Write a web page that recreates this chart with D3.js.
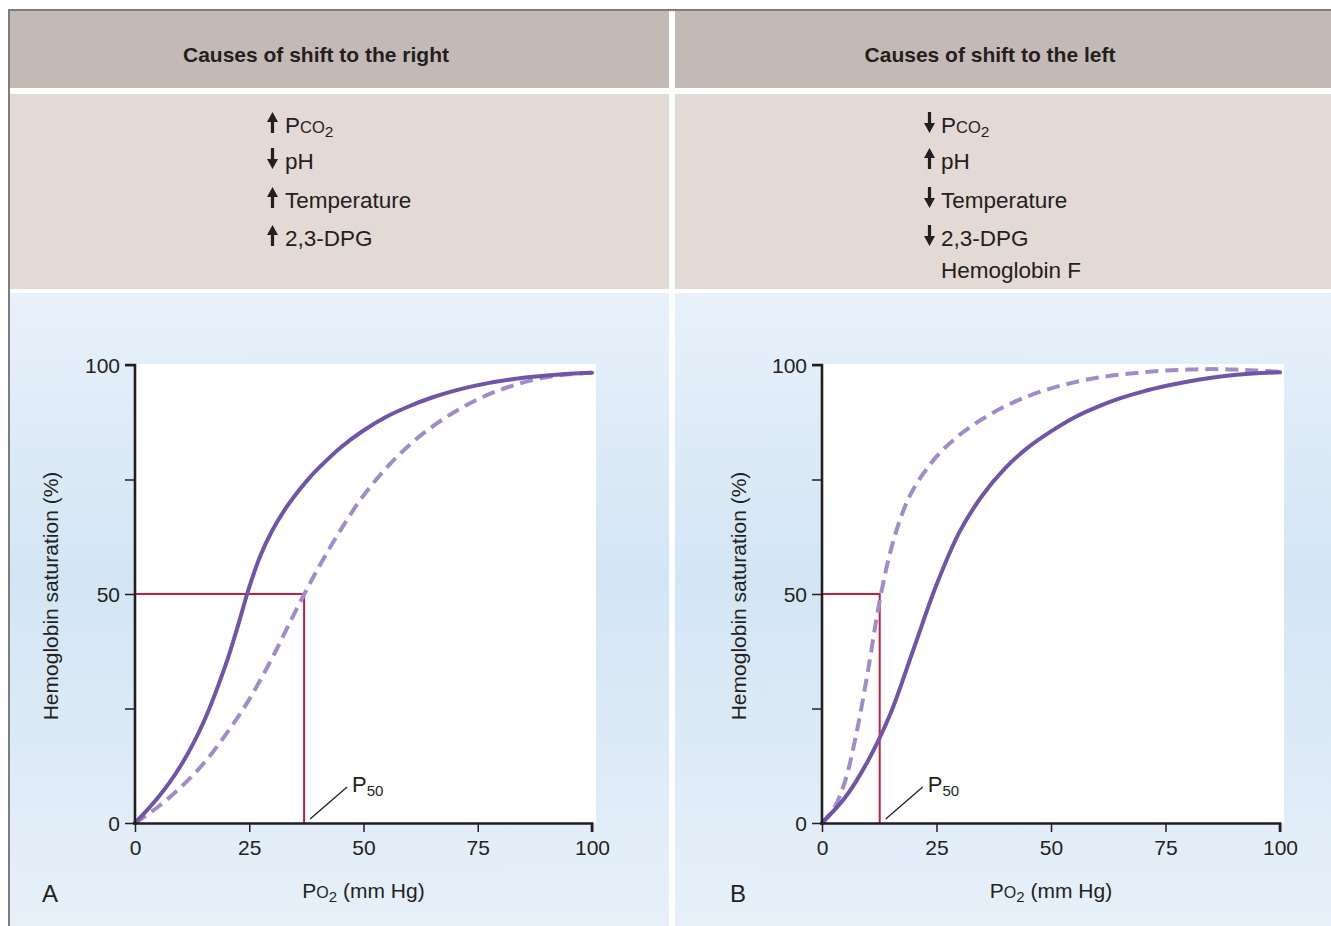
<!DOCTYPE html>
<html>
<head>
<meta charset="utf-8">
<script src="https://cdn.jsdelivr.net/npm/d3@7/dist/d3.min.js"></script>
<style>
  html, body { margin: 0; padding: 0; background: #ffffff; }
  svg { display: block; font-family: "Liberation Sans", Arial, Helvetica, sans-serif; }
</style>
</head>
<body>
<svg id="chart" width="1331" height="926"></svg>
<script>
// ---------------- DATA ----------------
const headers = ["Causes of shift to the right", "Causes of shift to the left"];
// each cause: [arrow direction, main text, small-caps part, subscript]
const causesRight = [
  ["up", "P", "CO", "2"],
  ["down", "pH", "", ""],
  ["up", "Temperature", "", ""],
  ["up", "2,3-DPG", "", ""]
];
const causesLeft = [
  ["down", "P", "CO", "2"],
  ["up", "pH", "", ""],
  ["down", "Temperature", "", ""],
  ["down", "2,3-DPG", "", ""],
  ["none", "Hemoglobin F", "", ""]
];
const xTicks = [0, 25, 50, 75, 100];
const yTicks = [0, 25, 50, 75, 100];
const yTickLabels = ["0", "", "50", "", "100"];
const panelLetters = ["A", "B"];
const yAxisTitle = "Hemoglobin saturation (%)";

// Panel A: normal curve (solid) and right-shifted curve (dashed)   [PO2, saturation %]
const panelA_normal = [[0,0],[5,5.5],[10,12.5],[15,22],[20,35],[22.5,43],[25,51.5],[27.5,58.5],[30,63.8],[32.5,68],[35,71.5],[37.5,74.6],[40,77.3],[45,82],[50,85.7],[55,88.7],[60,91],[65,92.9],[70,94.4],[75,95.6],[80,96.5],[85,97.2],[90,97.7],[95,98.1],[100,98.3]];
const panelA_shifted = [[0,0],[5,3.5],[10,7.8],[15,13],[20,19.5],[25,27],[30,36],[35,46],[40,55.5],[45,64],[50,71.5],[55,77.5],[60,82.5],[65,86.5],[70,89.8],[75,92.5],[80,94.6],[85,96.2],[90,97.3],[95,98],[100,98.3]];
// Panel B: normal curve (solid) and left-shifted curve (dashed)
const panelB_normal = [[0,0],[5,5.5],[10,13.5],[15,24],[20,38],[25,52],[30,63.5],[35,71.5],[40,77.5],[45,82],[50,85.5],[55,88.5],[60,90.8],[65,92.7],[70,94.2],[75,95.4],[80,96.4],[85,97.2],[90,97.8],[95,98.2],[100,98.4]];
const panelB_shifted = [[0,0],[2.5,3],[5,9],[7.5,19.5],[10,33],[12.5,48],[15,59.5],[17.5,67.5],[20,73],[25,80],[30,84.7],[35,88.2],[40,91],[45,93.2],[50,94.9],[55,96.2],[60,97.2],[65,97.9],[70,98.4],[75,98.8],[80,99],[85,99.1],[90,99],[95,98.8],[100,98.5]];
const p50Values = [37, 12.6];

// ---------------- DRAW ----------------
const svg = d3.select("#chart");
const W = 1331, H = 926;
const colSolid = "#6f54a8", colDash = "#a08ccb", colRed = "#c41e3f", ink = "#231f20";

const defs = svg.append("defs");
const grad = defs.append("linearGradient").attr("id", "blueGrad").attr("x1", 0).attr("y1", 0).attr("x2", 0).attr("y2", 1);
grad.append("stop").attr("offset", "0%").attr("stop-color", "#e8f1fa");
grad.append("stop").attr("offset", "45%").attr("stop-color", "#d3e5f4");
grad.append("stop").attr("offset", "100%").attr("stop-color", "#e7f0f9");

svg.append("rect").attr("x", 8).attr("y", 9).attr("width", W - 8).attr("height", H - 9).attr("fill", "#7d7d7d");

const cols = [{x0: 10, x1: 669}, {x0: 675, x1: W}];
cols.forEach((c) => {
  svg.append("rect").attr("x", c.x0).attr("y", 11).attr("width", c.x1 - c.x0).attr("height", 77).attr("fill", "#c3bab6");
  svg.append("rect").attr("x", c.x0).attr("y", 94).attr("width", c.x1 - c.x0).attr("height", 195).attr("fill", "#e3d9d5");
  svg.append("rect").attr("x", c.x0).attr("y", 293).attr("width", c.x1 - c.x0).attr("height", H - 293).attr("fill", "url(#blueGrad)");
});
svg.append("rect").attr("x", 10).attr("y", 88).attr("width", W - 10).attr("height", 6).attr("fill", "#ffffff");
svg.append("rect").attr("x", 10).attr("y", 289).attr("width", W - 10).attr("height", 4).attr("fill", "#ffffff");
svg.append("rect").attr("x", 669).attr("y", 11).attr("width", 6).attr("height", H - 11).attr("fill", "#ffffff");

const headerX = [316, 990];
headers.forEach((h, i) => {
  svg.append("text").attr("x", headerX[i]).attr("y", 62).attr("text-anchor", "middle")
    .attr("font-size", 21).attr("font-weight", "bold").attr("fill", ink).text(h);
});

function arrow(g, dir, x, yTop, yBot) {
  const hw = 5.5, hh = 10, sw = 1.6;
  let d;
  if (dir === "up") {
    d = `M${x},${yTop} L${x + hw},${yTop + hh} L${x + sw},${yTop + hh} L${x + sw},${yBot} L${x - sw},${yBot} L${x - sw},${yTop + hh} L${x - hw},${yTop + hh} Z`;
  } else {
    d = `M${x},${yBot} L${x + hw},${yBot - hh} L${x + sw},${yBot - hh} L${x + sw},${yTop} L${x - sw},${yTop} L${x - sw},${yBot - hh} L${x - hw},${yBot - hh} Z`;
  }
  g.append("path").attr("d", d).attr("fill", ink);
}

const baselines = [133, 169, 208, 246, 278];
function drawCauses(list, arrowX, textX) {
  const g = svg.append("g");
  list.forEach((c, i) => {
    const b = baselines[i];
    if (c[0] !== "none") arrow(g, c[0], arrowX, b - 21, b);
    const t = g.append("text").attr("x", textX).attr("y", b).attr("font-size", 22.5).attr("fill", ink);
    t.append("tspan").text(c[1]);
    if (c[2]) t.append("tspan").attr("font-size", 16.5).text(c[2]);
    if (c[3]) t.append("tspan").attr("font-size", 15.5).attr("dy", 4).text(c[3]);
  });
}
drawCauses(causesRight, 272.5, 285);
drawCauses(causesLeft, 929.5, 941);

const panels = [
  {x0: 135, x1: 592, normal: panelA_normal, shifted: panelA_shifted, p50: p50Values[0], letterX: 42, ylabX: 58},
  {x0: 822, x1: 1280, normal: panelB_normal, shifted: panelB_shifted, p50: p50Values[1], letterX: 730, ylabX: 746}
];
const yTop = 365, yBot = 823;

panels.forEach((p, pi) => {
  const x = d3.scaleLinear().domain([0, 100]).range([p.x0, p.x1]);
  const y = d3.scaleLinear().domain([0, 100]).range([yBot, yTop]);
  const g = svg.append("g");

  g.append("rect").attr("x", x(0)).attr("y", y(100) - 1).attr("width", x(100) - x(0) + 4).attr("height", y(0) - y(100) + 1).attr("fill", "#ffffff");

  g.append("path")
    .attr("d", `M${x(0)},${y(50)} L${x(p.p50)},${y(50)} L${x(p.p50)},${y(0)}`)
    .attr("fill", "none").attr("stroke", colRed).attr("stroke-width", 2);

  const line = d3.line().x(d => x(d[0])).y(d => y(d[1])).curve(d3.curveCatmullRom.alpha(0.5));
  g.append("path").datum(p.shifted).attr("d", line).attr("fill", "none")
    .attr("stroke", colDash).attr("stroke-width", 4).attr("stroke-dasharray", "13,7");
  g.append("path").datum(p.normal).attr("d", line).attr("fill", "none")
    .attr("stroke", colSolid).attr("stroke-width", 4).attr("stroke-linecap", "round");

  const xAxis = d3.axisBottom(x).tickValues(xTicks).tickSize(9).tickPadding(8).tickFormat(d3.format("d"));
  const yAxis = d3.axisLeft(y).tickValues(yTicks).tickSize(10).tickPadding(5).tickFormat((d, i) => yTickLabels[i]);
  const gx = g.append("g").attr("transform", `translate(0,${yBot})`).call(xAxis);
  const gy = g.append("g").attr("transform", `translate(${x(0)},0)`).call(yAxis);
  [gx, gy].forEach(a => {
    a.select(".domain").attr("stroke", ink).attr("stroke-width", 2.6);
    a.selectAll(".tick line").attr("stroke", ink).attr("stroke-width", 1.5);
    a.selectAll(".tick text").attr("fill", ink).attr("font-size", 21)
      .attr("font-family", '"Liberation Sans", Arial, sans-serif');
  });
  gx.select(".domain").attr("d", `M${x(0) - 2},0.5H${x(100)}V9`);
  gy.select(".domain").attr("d", `M-10,${y(100)}H0V${y(0) + 1}`);
  gy.selectAll(".tick text").attr("dy", "0.35em");

  g.append("text").attr("transform", `translate(${p.ylabX},${(yTop + yBot) / 2 + 2}) rotate(-90)`)
    .attr("text-anchor", "middle").attr("font-size", 21).attr("fill", ink).text(yAxisTitle);
  const xt = g.append("text").attr("x", (x(0) + x(100)) / 2).attr("y", 898).attr("text-anchor", "middle")
    .attr("font-size", 21).attr("fill", ink);
  xt.append("tspan").text("P");
  xt.append("tspan").attr("font-size", 16).text("O");
  xt.append("tspan").attr("font-size", 15).attr("dy", 4).text("2");
  xt.append("tspan").attr("dy", -4).text(" (mm Hg)");

  g.append("text").attr("x", p.letterX).attr("y", 902).attr("font-size", 24).attr("fill", ink).text(panelLetters[pi]);

  const lx = x(p.p50);
  g.append("line").attr("x1", lx + 6).attr("y1", yBot - 4).attr("x2", lx + 43).attr("y2", yBot - 36)
    .attr("stroke", ink).attr("stroke-width", 1.3);
  const pt = g.append("text").attr("x", lx + 48).attr("y", 792).attr("font-size", 22).attr("fill", ink);
  pt.append("tspan").text("P");
  pt.append("tspan").attr("font-size", 15).attr("dy", 4).text("50");
});
</script>
</body>
</html>
